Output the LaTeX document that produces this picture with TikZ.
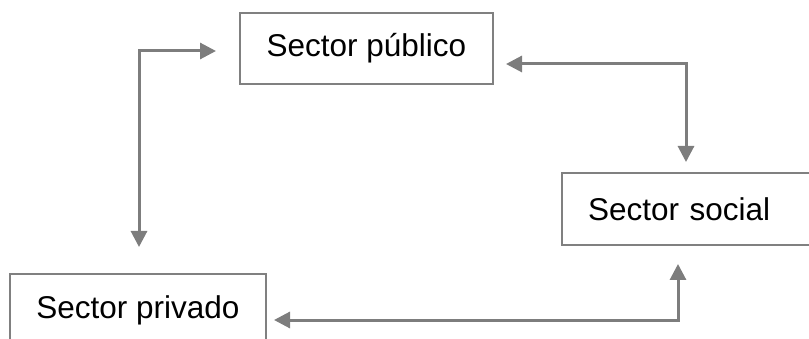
\documentclass[tikz,border=0pt]{standalone}
\usepackage{fontspec}
\setmainfont{Liberation Sans}
\usetikzlibrary{arrows.meta,calc}
\definecolor{linegray}{RGB}{125,125,125}
\definecolor{boxgray}{RGB}{128,128,128}
\tikzset{
  sectorbox/.style={draw=boxgray, line width=2pt, rectangle, inner sep=0pt,
    font=\fontsize{31.5}{36}\selectfont},
  arr/.style={draw=linegray, line width=3pt,
    {Triangle[length=16pt,width=16pt]}-{Triangle[length=16pt,width=16pt]}}
}
\begin{document}
\begin{tikzpicture}[x=1pt,y=-1pt]
\useasboundingbox (0,0) rectangle (809,339);
\clip (0,0) rectangle (809,339);
\node[sectorbox, minimum width=253pt, minimum height=71pt] (pub) at (366.5,48.5) {Sector público};
\node[sectorbox, minimum width=268pt, minimum height=72pt, text width=216pt, inner xsep=26pt, align=left] (soc) at (696,209) {Sector social};
\node[sectorbox, minimum width=256pt, minimum height=72pt] (priv) at (138,310) {Sector privado};
\draw[arr] ($(pub.west)+(-23,2.5)$) -| ($(priv.north)+(1,-26)$);
\draw[arr] ($(pub.east)+(12,15.5)$) -| ($(soc.north west)+(125,-10)$);
\draw[arr] ($(priv.east)+(7,10)$) -| ($(soc.south west)+(117,18)$);
\end{tikzpicture}
\end{document}
